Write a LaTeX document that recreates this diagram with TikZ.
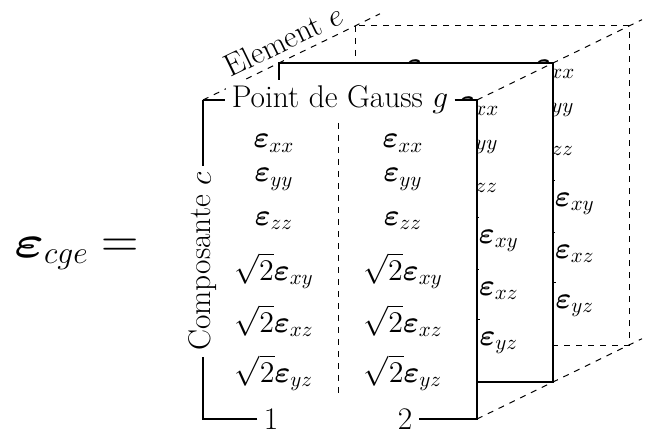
\RequirePackage{fix-cm}
\documentclass[tikz,border=0pt]{standalone}
\usepackage{amsmath}
\usepackage{bm}
\usepackage{graphicx}
\tikzset{
  lbl/.style={font=\fontsize{15.7}{19}\selectfont, inner sep=3pt},
  ent/.style={font=\fontsize{15}{18}\selectfont, anchor=base, inner sep=0pt},
  frameline/.style={line width=0.6pt},
  dashline/.style={dashed, line width=0.5pt},
}
% one column of strain components: #1 prefix, #2 column index, #3 x position
\newcommand\panelcolumn[3]{%
  \node[ent] (#1a#2) at (#3,48)  {$\bm{\varepsilon}_{xx}$};
  \node[ent] (#1b#2) at (#3,82)  {$\bm{\varepsilon}_{yy}$};
  \node[ent] (#1c#2) at (#3,125) {$\bm{\varepsilon}_{zz}$};
  \node[ent] (#1d#2) at (#3,180) {$\sqrt{2}\bm{\varepsilon}_{xy}$};
  \node[ent] (#1e#2) at (#3,232) {$\sqrt{2}\bm{\varepsilon}_{xz}$};
  \node[ent] (#1f#2) at (#3,282) {$\sqrt{2}\bm{\varepsilon}_{yz}$};
}
\begin{document}
\begin{tikzpicture}[x=0.5pt,y=-0.5pt]
\useasboundingbox (0,0) rectangle (648,433);

% back panel (only the parts that can show)
\begin{scope}[shift={(355,26)}]
  \draw[dashline] (0,0) rectangle (274,319);
  \node[ent] (ka1) at (71,48) {$\bm{\varepsilon}_{xx}$};
  \panelcolumn{k}{2}{200}
\end{scope}

% middle panel
\begin{scope}[shift={(279,63)}]
  \filldraw[fill=white, frameline] (0,0) rectangle (274,319);
  \panelcolumn{m}{2}{200}
\end{scope}

% front panel
\coordinate (TL) at (203,100);
\coordinate (TR) at (477,100);
\coordinate (BR) at (477,419);
\coordinate (BL) at (203,419);
\fill[white] (TL) rectangle (BR);
\coordinate (sepT) at (338,123);
\coordinate (sepB) at (338,397);
\draw[dashline] (sepT) -- (sepB);
\begin{scope}[shift={(203,100)}]
  \panelcolumn{f}{1}{71}
  \panelcolumn{f}{2}{200}
\end{scope}

% depth diagonals
\coordinate (TLx) at (380,13.8);
\coordinate (TRx) at (642,19.7);
\coordinate (BRx) at (642,338.7);
\draw[dashline] (TL) -- node[sloped, above=3.5pt, lbl, inner sep=0pt] (elem) {Element $e$} (TLx);
\draw[dashline] (TR) -- (TRx);
\draw[dashline] (BR) -- (BRx);

% labels of the front panel
\node[lbl, fill=white] (gauss) at (340,100) {Point de Gauss $g$};
\node[lbl, fill=white, rotate=90] (comp) at (203,261.5) {Composante $c$};
\node[lbl] (one) at (271,419) {1};
\node[lbl] (two) at (405,419) {2};

\draw[frameline] (TL) -- (gauss.west);
\draw[frameline] (gauss.east) -- (TR) -- (BR) -- (two.east);
\draw[frameline] (one.west) -- (BL) -- (comp.west);
\draw[frameline] (comp.east) -- (TL);

% left-hand side
\node[font=\fontsize{22.5}{27}\selectfont, anchor=base west, inner sep=0pt] (lhs) at (14,257)
  {$\scalebox{1.25}[1]{$\bm{\varepsilon}$}_{cge}\;\scalebox{1.15}{$=$}$};
\end{tikzpicture}
\end{document}
